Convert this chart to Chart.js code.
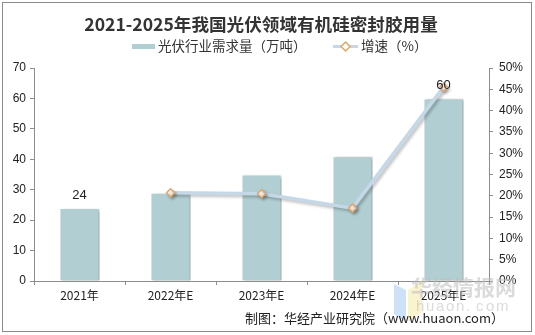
<!DOCTYPE html>
<html>
<head>
<meta charset="utf-8">
<script src="https://cdn.jsdelivr.net/npm/chart.js@4/dist/chart.umd.min.js"></script>
<style>
  html, body { margin: 0; padding: 0; background: #fff; }
  #wrap { width: 535px; height: 335px; position: relative; }
</style>
</head>
<body>
<div id="wrap"><canvas id="chart" width="535" height="335"></canvas></div>
<script>
/* Data */
let years = ['2021年', '2022年E', '2023年E', '2024年E', '2025年E']
let demand = [24, 29, 35, 41, 60]
let growth = [null, 20.7, 20.5, 17.1, 45.5]
let demandTicks = [0, 10, 20, 30, 40, 50, 60, 70]
let growthTicks = [0, 5, 10, 15, 20, 25, 30, 35, 40, 45, 50]
// only these bars carry a value label
let labelledBars = [0, 4]

let titleText = '2021-2025年我国光伏领域有机硅密封胶用量'
let sourceText = '制图：华经产业研究院（www.huaon.com）'

let barColor = '#b1cfd2'
let lineColor = '#c5d8e8'
let markerColor = '#e2a66b'
let axisColor = '#8c8c8c'
let cjk = '"Noto Sans CJK SC", "Liberation Sans", sans-serif'
let latin = '"Liberation Sans", Arial, sans-serif'

// shadows for bars and line
let shadowPlugin = {
    id: 'shadows',
    beforeDatasetDraw(chart, args) {
        let ctx = chart.ctx
        ctx.save()
        if (args.index == 0) {
            ctx.shadowColor = 'rgba(0,0,0,0.35)'
            ctx.shadowOffsetX = 3
            ctx.shadowOffsetY = 1
            ctx.shadowBlur = 3
        } else {
            ctx.shadowColor = 'rgba(0,0,0,0.25)'
            ctx.shadowOffsetX = 2
            ctx.shadowOffsetY = 2
            ctx.shadowBlur = 3
        }
    },
    afterDatasetDraw(chart) {
        chart.ctx.restore()
    }
}

// title, legend, labels, footer, watermark
let decorPlugin = {
    id: 'decor',
    afterDraw(chart) {
        let ctx = chart.ctx
        ctx.save()

        // watermark
        ctx.globalAlpha = 0.5
        ctx.fillStyle = '#9cc3f0'
        ctx.beginPath()
        ctx.moveTo(394, 284); ctx.lineTo(406, 290); ctx.lineTo(406, 322); ctx.lineTo(394, 314)
        ctx.fill()
        ctx.fillStyle = '#f6e7a0'
        ctx.beginPath()
        ctx.moveTo(408, 290); ctx.lineTo(422, 280); ctx.lineTo(422, 312); ctx.lineTo(408, 322)
        ctx.fill()
        ctx.globalAlpha = 1
        ctx.fillStyle = 'rgba(190,190,190,0.55)'
        ctx.font = 'bold 21px ' + cjk
        ctx.textAlign = 'left'
        ctx.textBaseline = 'middle'
        ctx.fillText('华经情报网', 411, 287)
        ctx.font = '15px ' + latin
        let hx = 416
        for (let ch of 'huaon.com') {
            ctx.fillText(ch, hx, 307)
            hx += 10
        }

        // value labels on bars
        let meta = chart.getDatasetMeta(0)
        ctx.fillStyle = '#222'
        ctx.font = '13px ' + latin
        ctx.textAlign = 'center'
        ctx.textBaseline = 'middle'
        labelledBars.forEach(function(i) {
            let bar = meta.data[i]
            ctx.fillText(String(demand[i]), bar.x, bar.y - 13)
        })

        // title
        ctx.fillStyle = '#333'
        ctx.font = 'bold 17.6px ' + cjk
        ctx.fillText(titleText, 261, 24)

        // legend
        ctx.font = '13.5px ' + cjk
        ctx.textAlign = 'left'
        ctx.fillStyle = barColor
        ctx.fillRect(132, 44, 23, 5)
        ctx.fillStyle = '#333'
        ctx.fillText('光伏行业需求量（万吨）', 158, 46)
        ctx.strokeStyle = lineColor
        ctx.lineWidth = 3
        ctx.beginPath()
        ctx.moveTo(333, 46.5); ctx.lineTo(358, 46.5)
        ctx.stroke()
        ctx.fillStyle = '#fff'
        ctx.strokeStyle = markerColor
        ctx.lineWidth = 1.5
        ctx.beginPath()
        ctx.moveTo(345.5, 42); ctx.lineTo(350, 46.5); ctx.lineTo(345.5, 51); ctx.lineTo(341, 46.5)
        ctx.closePath()
        ctx.fill(); ctx.stroke()
        ctx.fillStyle = '#333'
        ctx.fillText('增速（%）', 361, 46)

        // source
        ctx.textAlign = 'right'
        ctx.fillStyle = '#222'
        ctx.font = '13px ' + cjk
        ctx.fillText(sourceText, 504, 318)

        // frame
        ctx.strokeStyle = '#8a8a8a'
        ctx.lineWidth = 1
        ctx.strokeRect(2.5, 2.5, 529, 329)
        ctx.restore()
    }
}

let ctx = document.querySelector('#chart').getContext('2d')

let chart = new Chart(ctx, {
    data: {
        labels: years,
        datasets: [
            {
                type: 'bar',
                data: demand,
                backgroundColor: barColor,
                borderColor: '#ffffff',
                borderWidth: 1,
                barPercentage: 0.44,
                categoryPercentage: 1,
                yAxisID: 'y',
                order: 2
            },
            {
                type: 'line',
                data: growth,
                borderColor: lineColor,
                borderWidth: 3.5,
                pointStyle: 'rectRot',
                pointRadius: 4,
                pointBackgroundColor: '#fff',
                pointBorderColor: markerColor,
                pointBorderWidth: 1.5,
                yAxisID: 'y1',
                order: 1
            }
        ]
    },
    options: {
        responsive: false,
        animation: false,
        layout: { padding: { top: 68, left: 0, right: 0, bottom: 0 } },
        plugins: {
            legend: { display: false },
            title: { display: false },
            tooltip: { enabled: false }
        },
        scales: {
            x: {
                offset: true,
                grid: { display: true, offset: true, drawOnChartArea: false, tickLength: 4, color: axisColor },
                border: { color: axisColor },
                ticks: { color: '#222', font: { family: cjk, size: 12 }, padding: 3, maxRotation: 0 },
                afterFit(scale) { scale.height = 54 }
            },
            y: {
                position: 'left',
                min: 0, max: 70,
                afterBuildTicks(scale) { scale.ticks = demandTicks.map(v => ({ value: v })) },
                grid: { display: true, drawOnChartArea: false, tickLength: 4, color: axisColor },
                border: { color: axisColor },
                ticks: { color: '#222', font: { family: latin, size: 12 }, padding: 4 },
                afterFit(scale) { scale.width = 34 }
            },
            y1: {
                position: 'right',
                min: 0, max: 50,
                afterBuildTicks(scale) { scale.ticks = growthTicks.map(v => ({ value: v })) },
                grid: { display: true, drawOnChartArea: false, tickLength: 4, color: axisColor },
                border: { color: axisColor },
                ticks: { color: '#222', font: { family: latin, size: 12 }, padding: 6, callback: v => v + '%' },
                afterFit(scale) { scale.width = 46 }
            }
        }
    },
    plugins: [shadowPlugin, decorPlugin]
})
</script>
</body>
</html>
